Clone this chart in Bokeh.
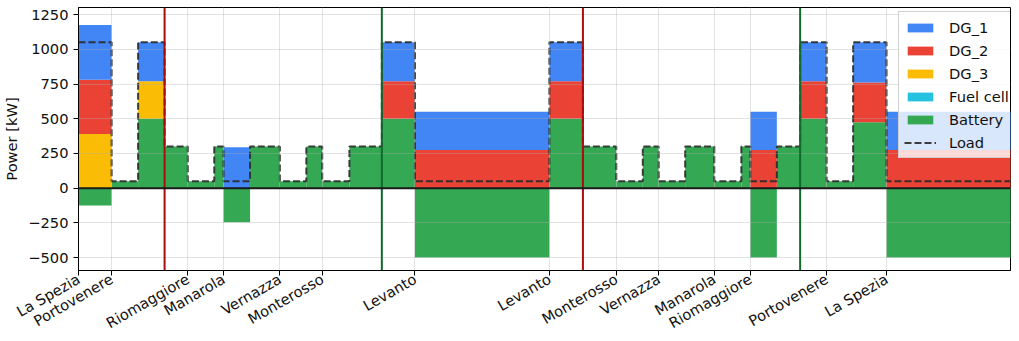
import math
from bokeh.plotting import figure
from bokeh.models import ColumnDataSource, FixedTicker, Span, Range1d, Legend
from bokeh.embed import file_html
from bokeh.resources import INLINE

# ---------------- data (time in minutes from departure) ----------------
t_edges = [0, 12.5, 22.5, 32.5, 41.25, 51.25, 54.75, 64.75, 76, 86, 92, 102.25,
           114.5, 127, 177.75, 190.4, 203, 213, 219, 229, 240, 250.2, 253.6,
           263.6, 272.4, 282.4, 292.4, 305, 360]

battery = [-125, 50, 500, 300, 50, 300, -245, 300, 50, 300, 50, 300, 500, -500,
           500, 300, 50, 300, 50, 300, 50, 300, -500, 300, 500, 50, 475, -500]
fuel_cell = [0] * 28
dg3 = [390, 0, 270, 0, 0, 0, 0, 0, 0, 0, 0, 0, 0, 0,
       0, 0, 0, 0, 0, 0, 0, 0, 0, 0, 0, 0, 0, 0]
dg2 = [390, 0, 0, 0, 0, 0, 0, 0, 0, 0, 0, 0, 270, 275,
       270, 0, 0, 0, 0, 0, 0, 0, 275, 0, 270, 0, 285, 275]
dg1 = [395, 0, 280, 0, 0, 0, 295, 0, 0, 0, 0, 0, 280, 275,
       280, 0, 0, 0, 0, 0, 0, 0, 275, 0, 280, 0, 290, 275]
load = [1050, 50, 1050, 300, 50, 300, 50, 300, 50, 300, 50, 300, 1050, 50,
        1050, 300, 50, 300, 50, 300, 50, 300, 50, 300, 1050, 50, 1050, 50]

port_ticks = [0, 12.5, 41.25, 54.75, 76, 92, 127, 177.75, 203, 219, 240, 253.6, 282.4, 305]
port_names = ["La Spezia", "Portovenere", "Riomaggiore", "Manarola", "Vernazza",
              "Monterosso", "Levanto", "Levanto", "Monterosso", "Vernazza",
              "Manarola", "Riomaggiore", "Portovenere", "La Spezia"]

red_zone = [32.5, 190.4]
green_zone = [114.5, 272.4]

y_ticks = [-500, -250, 0, 250, 500, 750, 1000, 1250]

# stacking order bottom -> top, legend shown reversed
components = [("Battery", battery, "#34A853"),
              ("Fuel cell", fuel_cell, "#24C1E0"),
              ("DG_3", dg3, "#FBBC05"),
              ("DG_2", dg2, "#EA4335"),
              ("DG_1", dg1, "#4285F4")]

FS = "14.67px"

p = figure(width=1011, height=341, output_backend="svg", toolbar_location=None,
           x_range=Range1d(0, 351.8), y_range=Range1d(-593, 1301),
           min_border_left=77, min_border_right=1, min_border_top=7,
           min_border_bottom=60)

n = len(load)
pos_base = [0.0] * n
neg_base = [0.0] * n
renderers = {}
for name, vals, color in components:
    bottoms, tops = [], []
    for i, v in enumerate(vals):
        if v >= 0:
            bottoms.append(pos_base[i]); tops.append(pos_base[i] + v); pos_base[i] += v
        else:
            tops.append(neg_base[i]); bottoms.append(neg_base[i] + v); neg_base[i] += v
    src = ColumnDataSource(dict(left=t_edges[:-1], right=t_edges[1:], bottom=bottoms, top=tops))
    r = p.quad(left="left", right="right", bottom="bottom", top="top", source=src,
               fill_color=color, fill_alpha=1.0, line_color=None)
    renderers[name] = r

load_r = p.step(t_edges, load + [load[-1]], mode="after", line_color="#2a2a2a",
                line_width=2, line_dash="7 3", line_alpha=0.9)

for x in red_zone:
    p.add_layout(Span(location=x, dimension="height", line_color="#a80c0c", line_width=2))
for x in green_zone:
    p.add_layout(Span(location=x, dimension="height", line_color="#0f6a2c", line_width=2))
p.add_layout(Span(location=0, dimension="width", line_color="#1a1a1a", line_width=2))

legend = Legend(items=[("DG_1", [renderers["DG_1"]]), ("DG_2", [renderers["DG_2"]]),
                       ("DG_3", [renderers["DG_3"]]), ("Fuel cell", [renderers["Fuel cell"]]),
                       ("Battery", [renderers["Battery"]]), ("Load", [load_r])],
                location=(820, 112))
legend.label_text_font = "DejaVu Sans"
legend.label_text_font_size = FS
legend.label_text_color = "#111111"
legend.glyph_width = 32
legend.glyph_height = 11
legend.label_height = 20
legend.label_standoff = 13
legend.spacing = 3
legend.padding = 5
legend.margin = 0
legend.background_fill_alpha = 0.8
legend.border_line_color = "#cccccc"
legend.border_line_alpha = 0.9
p.add_layout(legend)

# axes
p.xaxis.ticker = FixedTicker(ticks=port_ticks)
p.xaxis.major_label_overrides = {k: v for k, v in zip(port_ticks, port_names)}
p.xaxis.major_label_orientation = math.pi / 6
p.xaxis.major_label_standoff = 2
p.yaxis.ticker = FixedTicker(ticks=y_ticks)
p.yaxis.major_label_overrides = {v: (str(v).replace("-", "\u2212")) for v in y_ticks}
p.yaxis.axis_label = "Power [kW]"
p.yaxis.axis_label_text_font_style = "normal"
p.yaxis.axis_label_text_font_size = FS
p.yaxis.axis_label_text_font = "DejaVu Sans"
p.yaxis.axis_label_text_color = "#111111"
for ax in (p.xaxis, p.yaxis):
    ax.major_label_text_font = "DejaVu Sans"
    ax.major_label_text_font_size = FS
    ax.major_label_text_color = "#111111"
    ax.axis_line_color = "black"
    ax.major_tick_line_color = "black"
    ax.major_tick_in = 0
    ax.major_tick_out = 5
    ax.minor_tick_line_color = None

p.outline_line_color = "black"
p.outline_line_width = 1
p.outline_line_alpha = 1
for g in (p.xgrid, p.ygrid):
    g.grid_line_color = "#b0b0b0"
    g.grid_line_alpha = 0.35
    g.level = "guide"

open("out.html", "w").write(file_html(p, INLINE))
